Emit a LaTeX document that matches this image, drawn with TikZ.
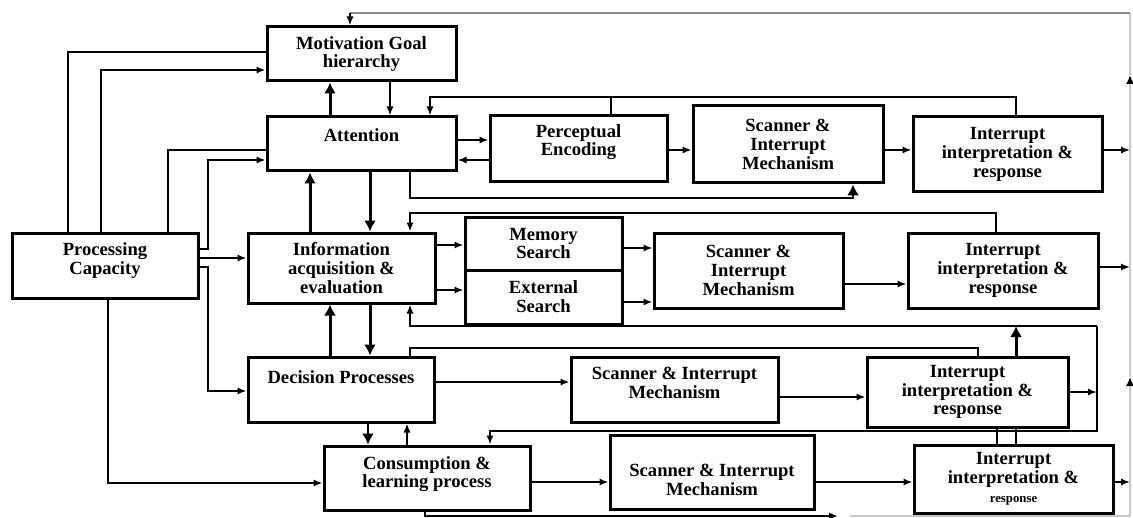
\documentclass[tikz,border=0pt]{standalone}
\usepackage{fontspec}
\setmainfont{Liberation Serif}
\usetikzlibrary{arrows.meta}

\newcommand{\lift}[1]{\rule[-#1]{0pt}{#1}}
\newcommand{\sink}[1]{\rule{0pt}{#1}}

\begin{document}
\begin{tikzpicture}[
    x=0.5pt, y=-0.5pt,
    box/.style={
        draw,
        line width=1.5pt,
        align=center,
        inner sep=1pt,
        font=\bfseries\fontsize{9.3}{9.4}\selectfont
    },
    wire/.style={line width=0.9pt},
    conn/.style={wire, -{Latex[length=4.5pt,width=3.6pt]}},
    heavy/.style={line width=1.5pt, -{Latex[length=5.5pt,width=6pt]}},
    faint/.style={line width=0.9pt, black!45},
    edge/.style={line width=0.8pt, black!22}
]

\path[use as bounding box, fill=white] (0,0) rectangle (1133,518);

\newcommand{\blk}[7][]{%
    \node[box, #1, minimum width={(#5-#3)*0.5pt}, minimum height={(#6-#4)*0.5pt}]
        (#2) at ({(#3+#5)/2},{(#4+#6)/2}) {#7};
}

% ============================================================
% BLOCKS
% ============================================================

\blk{mot}{267}{27}{456}{81}{Motivation Goal\\hierarchy}
\blk[text depth=9pt]{att}{267}{117}{456}{171}{Attention}
\blk{pe}{490}{116}{667}{182}{Perceptual\\Encoding\lift{9pt}}
\blk{sc1}{693}{106}{883}{183}{Scanner \&\\Interrupt\\Mechanism}
\blk{ii1}{913}{117}{1102}{192}{Interrupt\\interpretation \&\\response}

\blk{pc}{12}{233}{198}{298}{Processing\\Capacity\lift{7pt}}
\blk{ia}{248}{233}{435}{303}{Information\\acquisition \&\\evaluation}
\blk{ms}{465}{217}{622}{270}{Memory\\Search}
\blk{es}{465}{270}{622}{324}{External\\Search}
\blk{sc2}{654}{233}{843}{308}{Scanner \&\\Interrupt\\Mechanism}
\blk{ii2}{908}{233}{1098}{308}{Interrupt\\interpretation \&\\response}

\blk[text depth=12pt]{dp}{248}{357}{434}{422}{Decision Processes}
\blk{sc3}{571}{357}{778}{422}{Scanner \& Interrupt\\Mechanism\lift{7pt}}
\blk{ii3}{867}{357}{1068}{427}{Interrupt\\interpretation \&\\response}

\blk{cl}{324}{446}{530}{510}{Consumption \&\\learning process\lift{6pt}}
\blk{sc4}{610}{435}{814}{509}{\sink{14pt}Scanner \& Interrupt\\Mechanism}
\blk{ii4}{914}{445}{1113}{513}{Interrupt\\interpretation \&\\{\fontsize{6.4}{7}\selectfont response}}

% ============================================================
% OUTER FEEDBACK
% ============================================================

\coordinate (ne) at (1130,13);
\coordinate (se) at (1130,516);
\coordinate (topc) at (350,13);

\draw[edge, -{Latex[length=4.5pt,width=4pt,color=black]}] (se) -- (ne |- 0,377);
\draw[edge, -{Latex[length=4.5pt,width=4pt,color=black]}] (ne |- 0,377) -- (ne |- 0,75);
\draw[edge] (ne |- 0,75) -- (ne);
\draw[faint] (ne) -- (topc);
\draw[conn] (topc) -- (mot.north -| topc);

% ============================================================
% PROCESSING CAPACITY
% ============================================================

\draw[wire] (mot.west |- 0,52) -| (pc.north -| 68,0);
\draw[conn] (pc.north -| 101,0) |- (mot.west |- 0,70);
\draw[wire] (pc.north -| 168,0) |- (att.west |- 0,150);
\draw[conn] (pc.east |- 0,249) -- (208,249) |- (att.west |- 0,160);
\draw[conn] (pc.east |- 0,258) -- (ia.west |- 0,258);
\draw[conn] (pc.east |- 0,267) -- (208,267) |- (dp.west |- 0,391);
\draw[conn] (pc.south -| 108,0) |- (cl.west |- 0,483);

% ============================================================
% ATTENTION ROW
% ============================================================

\draw[heavy] (att.north -| 330,0) -- (mot.south -| 330,0);
\draw[conn] (mot.south -| 390,0) -- (att.north -| 390,0);
\draw[conn] (ii1.north -| 1016,0) |- (430,97) -- (att.north -| 430,0);
\draw[wire] (pe.north -| 611,0) -- (611,97);
\draw[conn] (att.east |- 0,140) -- (pe.west |- 0,140);
\draw[conn] (pe.west |- 0,160) -- (att.east |- 0,160);
\draw[conn] (pe.east |- 0,150) -- (sc1.west |- 0,150);
\draw[conn] (sc1.east |- 0,150) -- (ii1.west |- 0,150);
\draw[conn] (ii1.east |- 0,150) -- (ne |- 0,150);
\draw[wire, -{Latex[length=5.5pt,width=6pt]}] (att.south -| 410,0) |- (853,198) -- (sc1.south -| 853,0);
\draw[heavy] (ia.north -| 310,0) -- (att.south -| 310,0);
\draw[heavy] (att.south -| 370,0) -- (ia.north -| 370,0);

% ============================================================
% INFORMATION ROW
% ============================================================

\draw[conn] (ii2.north -| 996,0) |- (410,213) -- (ia.north -| 410,0);
\draw[conn] (ia.east |- 0,245) -- (ms.west |- 0,245);
\draw[conn] (ia.east |- 0,290) -- (es.west |- 0,290);
\draw[conn] (ms.east |- 0,248) -- (sc2.west |- 0,248);
\draw[conn] (es.east |- 0,302) -- (sc2.west |- 0,302);
\draw[conn] (sc2.east |- 0,284) -- (ii2.west |- 0,284);
\draw[conn] (ii2.east |- 0,267) -- (ne |- 0,267);
\draw[heavy] (dp.north -| 330,0) -- (ia.south -| 330,0);
\draw[heavy] (ia.south -| 370,0) -- (dp.north -| 370,0);

\coordinate (loop) at (1097,326);
\draw[conn] (loop) -| (ia.south -| 410,0);
\draw[conn] (loop) |- (490,431) -- (cl.north -| 490,0);
\draw[heavy] (ii3.north -| 1016,0) -- (loop -| 1016,0);

% ============================================================
% DECISION ROW
% ============================================================

\draw[wire] (dp.north -| 410,0) |- (978,348) -- (ii3.north -| 978,0);
\draw[conn] (dp.east |- 0,382) -- (sc3.west |- 0,382);
\draw[conn] (sc3.east |- 0,397) -- (ii3.west |- 0,397);
\draw[conn] (ii3.east |- 0,392) -- (loop |- 0,392);
\draw[heavy, line width=1.2pt] (dp.south -| 368,0) -- (cl.north -| 368,0);
\draw[conn] (cl.north -| 407,0) -- (dp.south -| 407,0);
\draw[wire] (ii3.south -| 997,0) -- (ii4.north -| 997,0);
\draw[wire] (ii3.south -| 1016,0) -- (ii4.north -| 1016,0);

% ============================================================
% CONSUMPTION ROW
% ============================================================

\draw[conn] (cl.east |- 0,482) -- (sc4.west |- 0,482);
\draw[conn] (sc4.east |- 0,482) -- (ii4.west |- 0,482);
\draw[conn] (ii4.east |- 0,482) -- (ne |- 0,482);
\draw[conn] (cl.south -| 425,0) |- (838,516);
\draw[edge] (850,516) -- (se);

\end{tikzpicture}
\end{document}
